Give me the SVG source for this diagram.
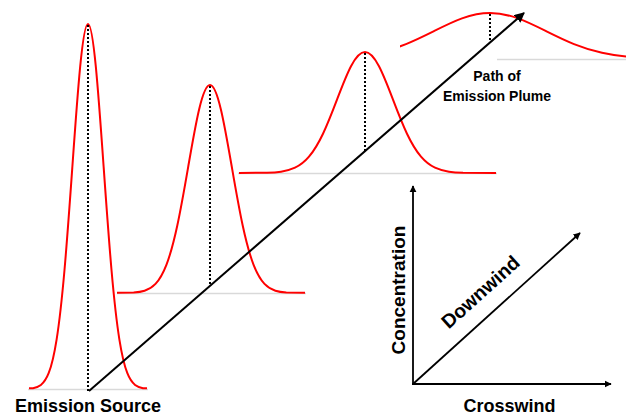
<svg xmlns="http://www.w3.org/2000/svg" width="626" height="417" viewBox="0 0 626 417">
  <style>
    .bell { fill: none; stroke: #ff0000; stroke-width: 2; }
    .base { stroke: #d9d9d9; stroke-width: 1.5; }
    .drop { stroke: #000; stroke-width: 2; stroke-dasharray: 2 2; }
    .path { stroke: #000; stroke-width: 2; fill: none; }
    .axis { stroke: #000; stroke-width: 1.8; fill: none; }
    .lbl { font-family: "Liberation Sans", Arial, sans-serif; font-weight: bold; fill: #000; }
  </style>
  <defs>
    <clipPath id="c1"><rect x="29" y="0" width="118" height="417"/></clipPath>
    <clipPath id="c2"><rect x="117" y="0" width="188" height="417"/></clipPath>
    <clipPath id="c3"><rect x="239" y="0" width="257" height="417"/></clipPath>
    <clipPath id="c4"><rect x="400" y="0" width="226" height="417"/></clipPath>
    <marker id="headBig" viewBox="0 0 10 10" refX="9" refY="5" markerWidth="5" markerHeight="5" orient="auto" markerUnits="strokeWidth">
      <path d="M0,0 L10,5 L0,10 Z" fill="#000"/>
    </marker>
    <marker id="headSmall" viewBox="0 0 10 10" refX="9" refY="5" markerWidth="4" markerHeight="4" orient="auto" markerUnits="strokeWidth">
      <path d="M0,0 L10,5 L0,10 Z" fill="#000"/>
    </marker>
  </defs>

  <!-- concentration profiles along the plume; each bell is a unit Gaussian
       (x in sigma units, y = -exp(-x^2/2)) scaled to its sigma and peak height -->
  <g id="profile1">
    <line class="base" x1="28" y1="389.5" x2="148" y2="389.5"/>
    <g clip-path="url(#c1)"><path class="bell" vector-effect="non-scaling-stroke" transform="translate(88,389) scale(15.7,365)" d="M -5,0 L -3.5,-0.0022 C -3.3333,-0.0035 -3.1667,-0.0055 -3,-0.0111 C -2.8333,-0.0167 -2.6667,-0.0256 -2.5,-0.0439 C -2.3333,-0.0622 -2.1667,-0.0902 -2,-0.1353 C -1.8333,-0.1804 -1.6667,-0.2435 -1.5,-0.3247 C -1.3333,-0.4059 -1.1667,-0.5054 -1,-0.6065 C -0.8333,-0.7076 -0.6667,-0.8090 -0.5,-0.8825 C -0.3333,-0.9560 -0.1667,-1 0,-1 C 0.1667,-1 0.3333,-0.9560 0.5,-0.8825 C 0.6667,-0.8090 0.8333,-0.7076 1,-0.6065 C 1.1667,-0.5054 1.3333,-0.4059 1.5,-0.3247 C 1.6667,-0.2435 1.8333,-0.1804 2,-0.1353 C 2.1667,-0.0902 2.3333,-0.0622 2.5,-0.0439 C 2.6667,-0.0256 2.8333,-0.0167 3,-0.0111 C 3.1667,-0.0055 3.3333,-0.0035 3.5,-0.0022 L 5,0"/></g>
    <line class="drop" x1="88" y1="25" x2="88" y2="391"/>
  </g>
  <g id="profile2">
    <line class="base" x1="117" y1="293.5" x2="306" y2="293.5"/>
    <g clip-path="url(#c2)"><path class="bell" vector-effect="non-scaling-stroke" transform="translate(210,293) scale(21.8,208)" d="M -5,0 L -3.5,-0.0022 C -3.3333,-0.0035 -3.1667,-0.0055 -3,-0.0111 C -2.8333,-0.0167 -2.6667,-0.0256 -2.5,-0.0439 C -2.3333,-0.0622 -2.1667,-0.0902 -2,-0.1353 C -1.8333,-0.1804 -1.6667,-0.2435 -1.5,-0.3247 C -1.3333,-0.4059 -1.1667,-0.5054 -1,-0.6065 C -0.8333,-0.7076 -0.6667,-0.8090 -0.5,-0.8825 C -0.3333,-0.9560 -0.1667,-1 0,-1 C 0.1667,-1 0.3333,-0.9560 0.5,-0.8825 C 0.6667,-0.8090 0.8333,-0.7076 1,-0.6065 C 1.1667,-0.5054 1.3333,-0.4059 1.5,-0.3247 C 1.6667,-0.2435 1.8333,-0.1804 2,-0.1353 C 2.1667,-0.0902 2.3333,-0.0622 2.5,-0.0439 C 2.6667,-0.0256 2.8333,-0.0167 3,-0.0111 C 3.1667,-0.0055 3.3333,-0.0035 3.5,-0.0022 L 5,0"/></g>
    <line class="drop" x1="210" y1="86" x2="210" y2="286"/>
  </g>
  <g id="profile3">
    <line class="base" x1="238" y1="173.5" x2="497" y2="173.5"/>
    <g clip-path="url(#c3)"><path class="bell" vector-effect="non-scaling-stroke" transform="translate(365,173) scale(28,121)" d="M -5,0 L -3.5,-0.0022 C -3.3333,-0.0035 -3.1667,-0.0055 -3,-0.0111 C -2.8333,-0.0167 -2.6667,-0.0256 -2.5,-0.0439 C -2.3333,-0.0622 -2.1667,-0.0902 -2,-0.1353 C -1.8333,-0.1804 -1.6667,-0.2435 -1.5,-0.3247 C -1.3333,-0.4059 -1.1667,-0.5054 -1,-0.6065 C -0.8333,-0.7076 -0.6667,-0.8090 -0.5,-0.8825 C -0.3333,-0.9560 -0.1667,-1 0,-1 C 0.1667,-1 0.3333,-0.9560 0.5,-0.8825 C 0.6667,-0.8090 0.8333,-0.7076 1,-0.6065 C 1.1667,-0.5054 1.3333,-0.4059 1.5,-0.3247 C 1.6667,-0.2435 1.8333,-0.1804 2,-0.1353 C 2.1667,-0.0902 2.3333,-0.0622 2.5,-0.0439 C 2.6667,-0.0256 2.8333,-0.0167 3,-0.0111 C 3.1667,-0.0055 3.3333,-0.0035 3.5,-0.0022 L 5,0"/></g>
    <line class="drop" x1="365" y1="53" x2="365" y2="151"/>
  </g>
  <g id="profile4">
    <line class="base" x1="497" y1="59.5" x2="626" y2="59.5"/>
    <g clip-path="url(#c4)"><path class="bell" vector-effect="non-scaling-stroke" transform="translate(490,59) scale(56,46)" d="M -5,0 L -3.5,-0.0022 C -3.3333,-0.0035 -3.1667,-0.0055 -3,-0.0111 C -2.8333,-0.0167 -2.6667,-0.0256 -2.5,-0.0439 C -2.3333,-0.0622 -2.1667,-0.0902 -2,-0.1353 C -1.8333,-0.1804 -1.6667,-0.2435 -1.5,-0.3247 C -1.3333,-0.4059 -1.1667,-0.5054 -1,-0.6065 C -0.8333,-0.7076 -0.6667,-0.8090 -0.5,-0.8825 C -0.3333,-0.9560 -0.1667,-1 0,-1 C 0.1667,-1 0.3333,-0.9560 0.5,-0.8825 C 0.6667,-0.8090 0.8333,-0.7076 1,-0.6065 C 1.1667,-0.5054 1.3333,-0.4059 1.5,-0.3247 C 1.6667,-0.2435 1.8333,-0.1804 2,-0.1353 C 2.1667,-0.0902 2.3333,-0.0622 2.5,-0.0439 C 2.6667,-0.0256 2.8333,-0.0167 3,-0.0111 C 3.1667,-0.0055 3.3333,-0.0035 3.5,-0.0022 L 5,0"/></g>
    <line class="drop" x1="490" y1="14" x2="490" y2="42"/>
  </g>

  <!-- plume centreline and axis key -->
  <g id="connectors">
    <line class="path" x1="89" y1="391" x2="524" y2="13" marker-end="url(#headBig)"/>
    <line class="axis" x1="413" y1="384" x2="413" y2="186" marker-end="url(#headSmall)"/>
    <line class="axis" x1="412" y1="384" x2="611" y2="384" marker-end="url(#headSmall)"/>
    <line class="axis" x1="413" y1="384" x2="580" y2="233" marker-end="url(#headSmall)"/>
  </g>

  <g id="labels">
    <text class="lbl" x="88" y="412" font-size="18" text-anchor="middle">Emission Source</text>
    <text class="lbl" x="497" y="80.5" font-size="14" text-anchor="middle">Path of</text>
    <text class="lbl" x="497" y="100.5" font-size="14" text-anchor="middle">Emission Plume</text>
    <text class="lbl" x="509.5" y="412" font-size="18" text-anchor="middle">Crosswind</text>
    <text class="lbl" font-size="19" text-anchor="middle" transform="translate(405,290) rotate(-90)">Concentration</text>
    <text class="lbl" font-size="19.5" text-anchor="middle" transform="translate(485,297) rotate(-42)">Downwind</text>
  </g>
</svg>
